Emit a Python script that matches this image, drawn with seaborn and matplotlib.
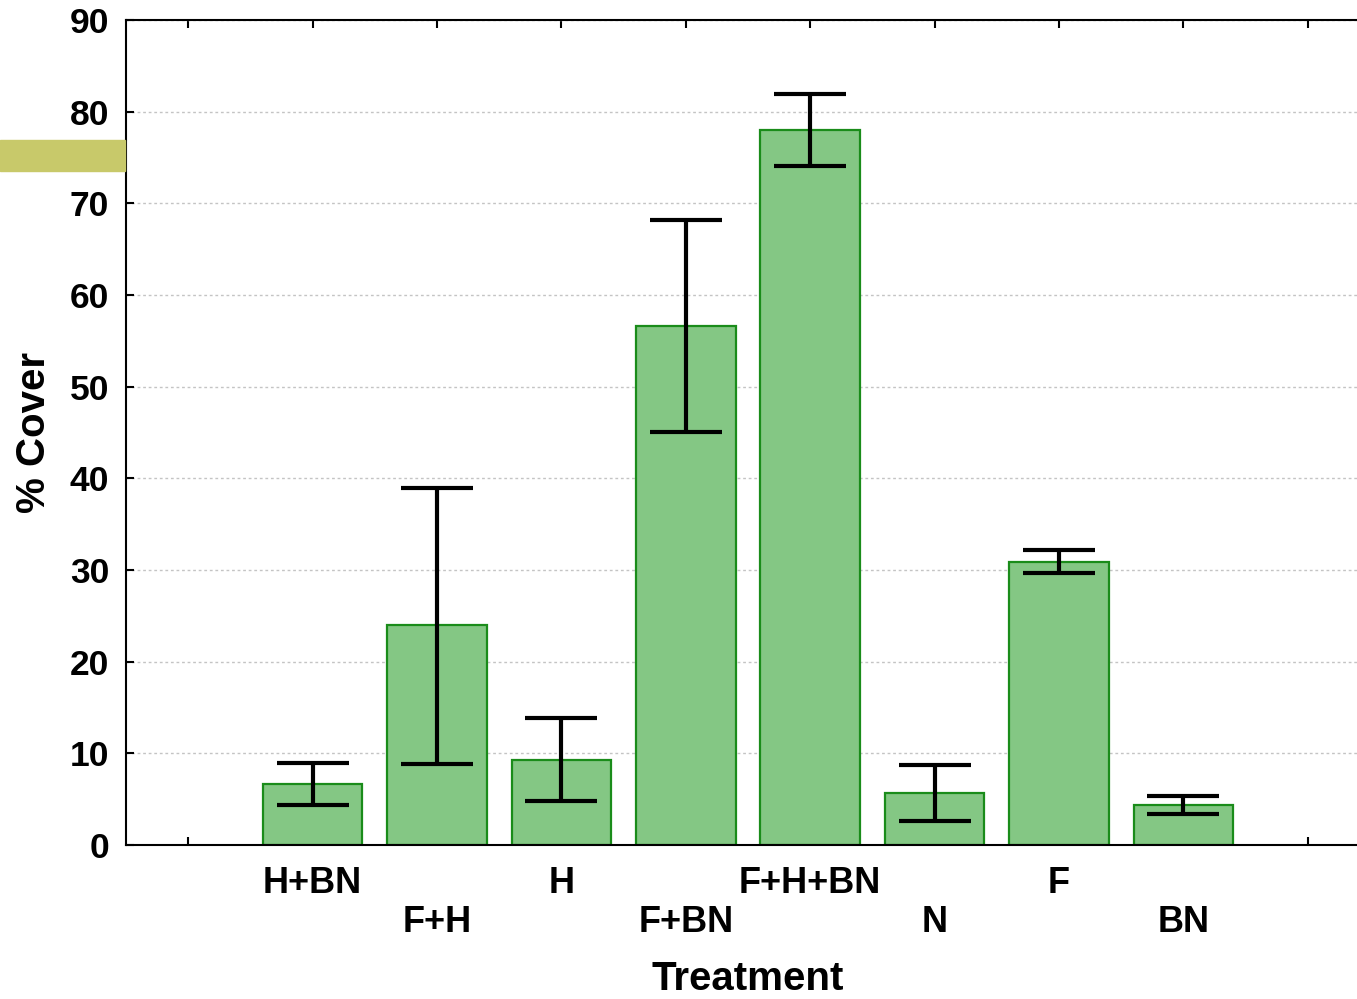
import matplotlib
matplotlib.use("Agg")
import matplotlib.pyplot as plt
import seaborn as sns
import numpy as np
import pandas as pd
from matplotlib.patches import Rectangle

# data
treatments = ["H+BN", "F+H", "H", "F+BN", "F+H+BN", "N", "F", "BN"]
cover_mean = [6.7, 24.0, 9.3, 56.6, 78.0, 5.7, 30.9, 4.4]
cover_low = [4.4, 8.8, 4.8, 45.0, 74.1, 2.6, 29.7, 3.4]
cover_high = [8.9, 38.9, 13.9, 68.2, 81.9, 8.7, 32.2, 5.3]
y_ticks = [0, 10, 20, 30, 40, 50, 60, 70, 80, 90]

sns.set_theme(style="white")
plt.rcParams["font.family"] = ["Liberation Sans", "DejaVu Sans"]
plt.rcParams["font.weight"] = "bold"
plt.rcParams["text.color"] = "black"
plt.rcParams["axes.labelcolor"] = "black"

df = pd.DataFrame({"Treatment": treatments, "Cover": cover_mean})

fig = plt.figure(figsize=(13.57, 9.99), dpi=100)
ax = fig.add_axes([126 / 1357, 1 - 845 / 999, 1244 / 1357, 825 / 999])

sns.barplot(data=df, x="Treatment", y="Cover", order=treatments, color="#84c784",
            edgecolor="#1a8c1a", linewidth=1.6, width=0.8, saturation=1, ax=ax)

# asymmetric error bars
xpos = np.arange(len(treatments))
mean = np.array(cover_mean)
err = [mean - np.array(cover_low), np.array(cover_high) - mean]
ax.errorbar(xpos, mean, yerr=err, fmt="none", ecolor="black", elinewidth=3,
            capsize=26, capthick=3, zorder=5)

ax.set_ylim(0, 90)
ax.set_xlim(-1.5, len(treatments) + 0.5)
ax.set_yticks(y_ticks)
ax.set_yticklabels([str(t) for t in y_ticks], fontsize=25.5, fontweight="bold")

# staggered category labels, plus empty slots at each end
labels = [""] + [t if i % 2 == 0 else "\n" + t for i, t in enumerate(treatments)] + [""]
ax.set_xticks(np.arange(-1, len(treatments) + 1))
ax.set_xticklabels(labels, fontsize=26, fontweight="bold", linespacing=1.14)

ax.tick_params(axis="x", direction="in", length=6, width=1.5, pad=15, top=True,
               bottom=True, colors="black")
ax.tick_params(axis="y", direction="in", length=6, width=1.5, pad=12, left=True,
               colors="black")

ax.yaxis.grid(True, color="#c4c4c4", linestyle=(0, (2, 2)), linewidth=1)
ax.set_axisbelow(True)
for side in ["left", "bottom", "top", "right"]:
    ax.spines[side].set_color("black")
    ax.spines[side].set_linewidth(1.5)

ax.set_xlabel("Treatment", fontsize=29, fontweight="bold")
ax.set_ylabel("% Cover", fontsize=29, fontweight="bold")
ax.xaxis.set_label_coords(0.5, -0.139)
ax.yaxis.set_label_coords(-0.059, 0.5)

# olive stripe at left edge of the slide
fig.patches.append(Rectangle((0, 1 - 171 / 999), 125 / 1357, 31 / 999,
                             transform=fig.transFigure, color="#c8c96a", zorder=0))

fig.savefig("out.png", dpi=100)
